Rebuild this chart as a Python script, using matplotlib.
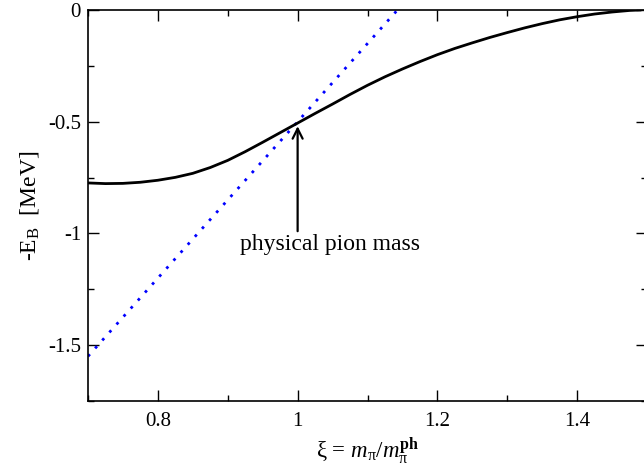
import matplotlib
matplotlib.use('Agg')
import matplotlib.pyplot as plt
from matplotlib.ticker import MultipleLocator

plt.rcParams['font.family'] = ['Liberation Serif', 'DejaVu Serif']
plt.rcParams['mathtext.fontset'] = 'custom'
plt.rcParams['mathtext.rm'] = 'Liberation Serif'
plt.rcParams['mathtext.it'] = 'Liberation Serif:italic'
plt.rcParams['mathtext.bf'] = 'Liberation Serif:bold'

# binding energy curve
xi = [0.700, 0.725, 0.750, 0.775, 0.800, 0.825, 0.850, 0.875, 0.900, 0.925,
      0.950, 0.975, 1.000, 1.025, 1.050, 1.075, 1.100, 1.125, 1.150, 1.175,
      1.200, 1.225, 1.250, 1.275, 1.300, 1.325, 1.350, 1.375, 1.400, 1.425,
      1.450, 1.475, 1.490]
neg_eb = [-0.774, -0.777, -0.776, -0.771, -0.762, -0.749, -0.731, -0.705, -0.673, -0.634,
          -0.592, -0.549, -0.506, -0.463, -0.421, -0.378, -0.337, -0.299, -0.264, -0.231,
          -0.200, -0.172, -0.147, -0.123, -0.101, -0.080, -0.061, -0.044, -0.030, -0.018,
          -0.009, -0.002, 0.0]

# blue dotted straight line
xi_lin = [0.70, 1.15]
neg_eb_lin = [-1.55, 0.025]

phys_x = 1.0
phys_y = -0.505
label_y = -0.99

fig = plt.figure(figsize=(6.44, 4.72), dpi=100, facecolor='w')
ax = fig.add_axes([88 / 644, 71 / 472, 559 / 644, 391 / 472])

ax.plot(xi_lin, neg_eb_lin, color='blue', linewidth=2.0, linestyle=(0, (1, 2.85)),
        dash_capstyle='butt')
ax.plot(xi, neg_eb, color='black', linewidth=2.0)

ax.annotate('', xy=(phys_x, phys_y - 0.015), xytext=(phys_x, label_y),
            arrowprops=dict(arrowstyle='->', color='black', lw=1.6,
                            mutation_scale=18, shrinkA=0, shrinkB=0))
ax.text(1.046, label_y - 0.012, 'physical pion mass', ha='center', va='top', fontsize=17)

ax.set_xlim(0.7, 1.5)
ax.set_ylim(-1.75, 0)
ax.xaxis.set_minor_locator(MultipleLocator(0.1))
ax.yaxis.set_minor_locator(MultipleLocator(0.25))
ax.set_xticks([0.8, 1.0, 1.2, 1.4])
ax.set_xticklabels(['0.8', '1', '1.2', '1.4'])
ax.set_yticks([0, -0.5, -1, -1.5])
ax.set_yticklabels(['0', '-0.5', '-1', '-1.5'])

ax.tick_params(which='both', direction='in', top=True, right=True, width=1.0, labelsize=15)
ax.tick_params(which='major', length=8)
ax.tick_params(which='minor', length=4)
ax.tick_params(axis='x', pad=8)
ax.tick_params(axis='y', pad=5)
for s in ax.spines.values():
    s.set_linewidth(1.2)

ax.set_xlabel(r'$\mathrm{\xi}$ = $m_{\mathrm{\pi}}/m_{\mathrm{\pi}}^{\mathbf{ph}}$', fontsize=16.5, labelpad=3)
ax.set_ylabel(r'-E$_\mathrm{B}$  [MeV]', fontsize=17, labelpad=5)

fig.savefig('out.png', dpi=100)
plt.close()
